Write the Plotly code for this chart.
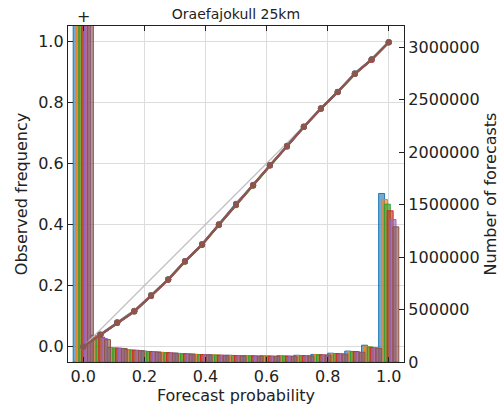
import plotly.graph_objects as go

# Forecast probability bins (ensemble fractions)
prob_bins = [0.0, 0.056, 0.111, 0.167, 0.222, 0.278, 0.333, 0.389, 0.444, 0.5,
             0.556, 0.611, 0.667, 0.722, 0.778, 0.833, 0.889, 0.944, 1.0]

series_names = ["s1", "s2", "s3", "s4", "s5", "s6"]
series_colors = ["#1f77b4", "#ff7f0e", "#2ca02c", "#d62728", "#9467bd", "#8c564b"]

# Observed frequency per bin, one list per series
obs_s1 = [0.001, 0.040, 0.080, 0.118, 0.169, 0.221, 0.281, 0.336, 0.401, 0.468,
          0.530, 0.595, 0.658, 0.721, 0.781, 0.835, 0.895, 0.941, 0.997]
obs_s2 = [0.000, 0.039, 0.079, 0.117, 0.168, 0.220, 0.280, 0.335, 0.400, 0.466,
          0.529, 0.594, 0.657, 0.720, 0.780, 0.834, 0.894, 0.940, 0.997]
obs_s3 = [0.000, 0.038, 0.078, 0.115, 0.166, 0.219, 0.278, 0.333, 0.398, 0.463,
          0.527, 0.593, 0.655, 0.719, 0.779, 0.833, 0.893, 0.940, 0.996]
obs_s4 = [0.000, 0.039, 0.078, 0.115, 0.166, 0.219, 0.279, 0.334, 0.399, 0.465,
          0.528, 0.593, 0.656, 0.719, 0.779, 0.834, 0.893, 0.939, 0.997]
obs_s5 = [0.000, 0.039, 0.079, 0.116, 0.167, 0.220, 0.280, 0.335, 0.400, 0.466,
          0.529, 0.594, 0.657, 0.720, 0.780, 0.834, 0.894, 0.940, 0.997]
obs_s6 = [0.000, 0.039, 0.079, 0.116, 0.167, 0.220, 0.280, 0.335, 0.400, 0.466,
          0.529, 0.594, 0.657, 0.720, 0.780, 0.834, 0.894, 0.940, 0.997]

# Number of forecasts per bin, one list per series
cnt_s1 = [11800000, 254000, 138000, 118000, 104000, 92000, 82000, 73000, 68000, 64000,
          61000, 59000, 60000, 64000, 72000, 84000, 104000, 160000, 1605000]
cnt_s2 = [11700000, 241000, 134000, 115000, 101000, 90000, 80000, 72000, 67000, 63000,
          60000, 58000, 58000, 62000, 70000, 81000, 101000, 145000, 1548000]
cnt_s3 = [11650000, 236000, 133000, 113000, 100000, 89000, 79000, 71000, 66000, 62000,
          59000, 57000, 57000, 61000, 69000, 80000, 100000, 143000, 1503000]
cnt_s4 = [11600000, 236000, 132000, 112000, 99000, 88000, 78000, 70000, 65000, 61000,
          58000, 56000, 56000, 60000, 68000, 79000, 99000, 137000, 1440000]
cnt_s5 = [11550000, 223000, 130000, 110000, 97000, 86000, 77000, 69000, 64000, 60000,
          57000, 55000, 55000, 59000, 67000, 77000, 90000, 136000, 1357000]
cnt_s6 = [11500000, 213000, 128000, 108000, 95000, 85000, 76000, 68000, 63000, 59000,
          56000, 54000, 54000, 58000, 66000, 76000, 93000, 130000, 1287000]

obs_all = [obs_s1, obs_s2, obs_s3, obs_s4, obs_s5, obs_s6]
cnt_all = [cnt_s1, cnt_s2, cnt_s3, cnt_s4, cnt_s5, cnt_s6]

x_ticks = [0.0, 0.2, 0.4, 0.6, 0.8, 1.0]
count_ticks = [0, 500000, 1000000, 1500000, 2000000, 2500000, 3000000]


def rgba(hex_color, alpha):
    h = hex_color.lstrip("#")
    r, g, b = int(h[0:2], 16), int(h[2:4], 16), int(h[4:6], 16)
    return f"rgba({r},{g},{b},{alpha})"


fig = go.Figure()

# Histogram of forecast counts (right axis, drawn underneath)
bar_step = 0.0093
bar_width = 0.0195
for i, (name, col, cnt) in enumerate(zip(series_names, series_colors, cnt_all)):
    fig.add_trace(go.Bar(
        x=prob_bins, y=cnt, name=name, yaxis="y",
        offset=-0.033 + i * bar_step, width=bar_width,
        marker=dict(color=rgba(col, 0.62), line=dict(color=col, width=1)),
        showlegend=False,
    ))

# Perfect reliability diagonal
fig.add_trace(go.Scatter(
    x=[0.0, 1.0], y=[0.0, 1.0], yaxis="y2", mode="lines",
    line=dict(color="#c0c0c0", width=1.2), showlegend=False,
))

# Reliability curves
for name, col, obs in zip(series_names, series_colors, obs_all):
    fig.add_trace(go.Scatter(
        x=prob_bins, y=obs, yaxis="y2", mode="lines+markers", name=name,
        line=dict(color=col, width=2),
        marker=dict(color=col, size=6, symbol="circle"),
        showlegend=False,
    ))

font_family = "DejaVu Sans"
spine = "#222222"

fig.update_layout(
    width=502, height=408,
    margin=dict(l=68, r=98, t=26, b=46),
    paper_bgcolor="white", plot_bgcolor="white",
    barmode="overlay",
    font=dict(family=font_family, color="#222222", size=16),
    title=dict(text="Oraefajokull 25km", x=0.47, xanchor="center",
               y=0.966, yanchor="middle", font=dict(size=14, color="#222222")),
    xaxis=dict(
        range=[-0.05, 1.05], tickvals=x_ticks, tickformat=".1f",
        showgrid=True, gridcolor="#dcdcdc", gridwidth=1, zeroline=False,
        showline=True, linecolor=spine, linewidth=1.3, mirror="ticks",
        ticks="inside", ticklen=5, tickcolor=spine, automargin=False,
        title=dict(text="Forecast probability", standoff=2, font=dict(size=16)),
        tickfont=dict(size=16),
    ),
    yaxis=dict(
        side="right", range=[0, 3200000], tickvals=count_ticks, tickformat="d",
        showgrid=False, zeroline=False,
        showline=True, linecolor=spine, linewidth=1.3,
        ticks="inside", ticklen=5, tickcolor=spine, automargin=False,
        title=dict(text="Number of forecasts", standoff=6, font=dict(size=16)),
        tickfont=dict(size=16),
    ),
    yaxis2=dict(
        side="left", overlaying="y", range=[-0.05, 1.05],
        tickvals=[0.0, 0.2, 0.4, 0.6, 0.8, 1.0], tickformat=".1f",
        showgrid=True, gridcolor="#dcdcdc", gridwidth=1, zeroline=False,
        showline=True, linecolor=spine, linewidth=1.3,
        ticks="inside", ticklen=5, tickcolor=spine, automargin=False,
        title=dict(text="Observed frequency", standoff=6, font=dict(size=16)),
        tickfont=dict(size=16),
    ),
)

# Marker flagging the zero-probability bin that runs off the top of the axis
fig.add_annotation(
    x=0.0, xref="x", y=1.0, yref="paper", yanchor="bottom", yshift=-2,
    text="+", showarrow=False, font=dict(size=16, color="#222222"),
)

fig.write_html("out.html")
